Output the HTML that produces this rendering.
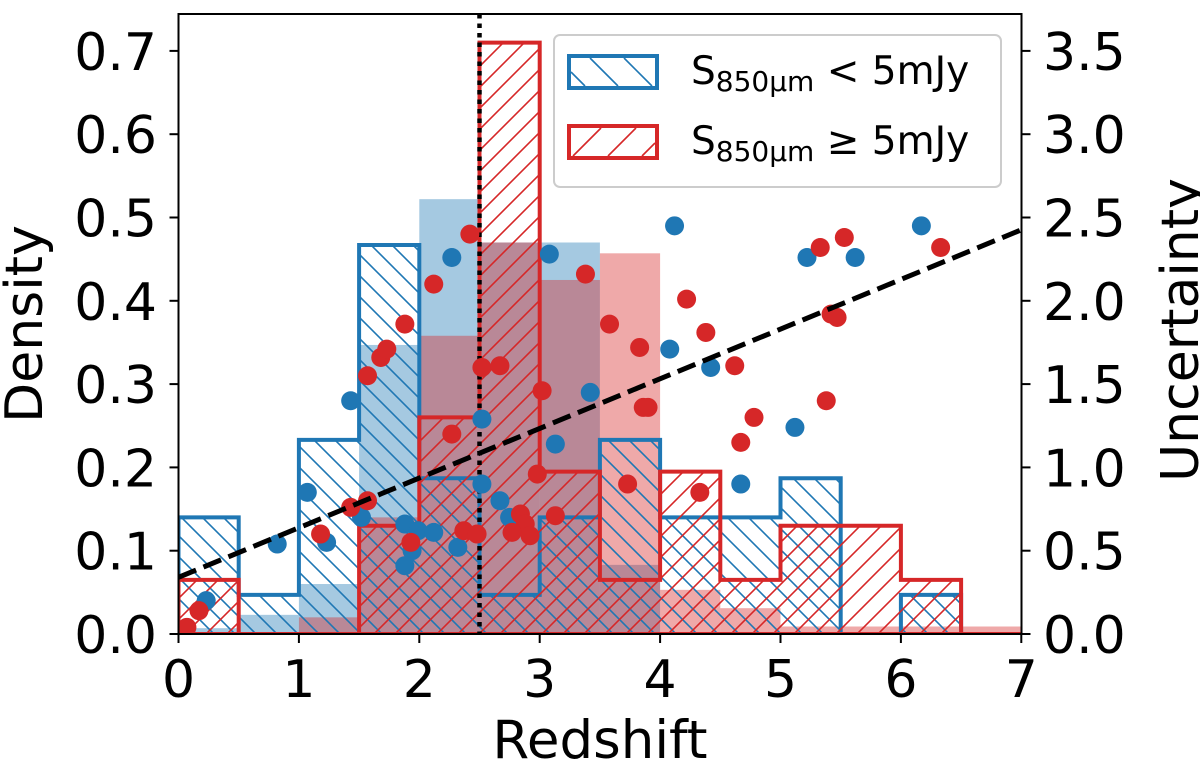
<!DOCTYPE html>
<html><head><meta charset="utf-8"><style>
html,body{margin:0;padding:0;background:#fff;}
svg{display:block;font-family:"DejaVu Sans","Liberation Sans",sans-serif;}
</style></head><body>
<svg id="chart" width="1200" height="766" viewBox="0 0 1200 766">
<defs>
<pattern id="hb" patternUnits="userSpaceOnUse" width="21" height="21"><path d="M-4,-4 L25,25 M-4,17 L4,25 M17,-4 L25,4" stroke="#1f77b4" stroke-width="1.6"/></pattern>
<pattern id="hr" patternUnits="userSpaceOnUse" width="21" height="21"><path d="M-4,25 L25,-4 M-4,4 L4,-4 M17,25 L25,17" stroke="#d62728" stroke-width="1.6"/></pattern>
<clipPath id="clip"><rect x="178.5" y="14" width="843" height="620"/></clipPath>
</defs>
<g id="plot" clip-path="url(#clip)"></g>
<g id="axes"></g>
</svg>
<script>
const binEdges=[0,0.5,1,1.5,2,2.5,3,3.5,4,4.5,5,5.5,6,6.5,7];
const blueFill=[0.007,0.023,0.06,0.347,0.522,0.47,0.47,0.083,0,0,0,0,0,0];
const redFill=[0,0,0.02,0.14,0.358,0.47,0.425,0.457,0.053,0.031,0.009,0.009,0.009,0.009];
const blueHatch=[0.14,0.047,0.233,0.467,0.187,0.047,0.14,0.233,0.14,0.14,0.187,0,0.047,0];
const redHatch=[0.065,0,0,0.13,0.26,0.71,0.195,0.065,0.195,0.065,0.13,0.13,0.065,0];
const blueX=[0.23,0.82,1.23,1.07,1.43,1.52,2.27,1.88,1.99,2.12,1.94,1.88,2.32,2.52,2.52,2.67,2.75,3.08,3.13,3.42,4.12,4.08,4.42,4.67,5.12,5.22,5.62,6.17];
const blueU=[0.20,0.54,0.55,0.85,1.40,0.70,2.26,0.66,0.62,0.61,0.50,0.41,0.52,1.29,0.90,0.80,0.70,2.28,1.14,1.45,2.45,1.71,1.60,0.90,1.24,2.26,2.26,2.45];
const redX=[0.07,0.17,1.18,1.43,1.57,1.57,1.68,1.73,1.88,2.12,2.42,2.27,1.93,2.37,2.48,2.52,2.67,3.02,2.98,2.84,2.88,2.92,2.77,3.13,3.38,3.58,3.83,3.86,3.90,3.73,4.22,4.38,4.62,4.78,4.67,4.33,5.38,5.42,5.47,5.33,5.53,6.33];
const redU=[0.04,0.14,0.60,0.76,0.80,1.55,1.66,1.71,1.86,2.10,2.40,1.20,0.55,0.62,0.60,1.60,1.61,1.46,0.96,0.72,0.66,0.59,0.61,0.71,2.16,1.86,1.72,1.36,1.36,0.90,2.01,1.81,1.61,1.30,1.15,0.85,1.40,1.92,1.90,2.32,2.38,2.32];
const fitIntercept=0.34, fitSlope=0.298;
const xTicks=[0,1,2,3,4,5,6,7];
const yTicks=[0.0,0.1,0.2,0.3,0.4,0.5,0.6,0.7];
const uTicks=[0.0,0.5,1.0,1.5,2.0,2.5,3.0,3.5];
const zSplit=2.5;

const NS='http://www.w3.org/2000/svg';
const X=v=>178.5+v*120.4;
const Y=v=>634-v*833;
const U=v=>634-v*166.6;
const plot=document.getElementById('plot'), axes=document.getElementById('axes');
function mk(tag,attrs,parent){const e=document.createElementNS(NS,tag);for(const k in attrs)e.setAttribute(k,attrs[k]);parent.appendChild(e);return e;}

blueFill.forEach((v,i)=>{if(v<=0)return;
 const r=mk('rect',{x:X(binEdges[i]),y:Y(v),width:X(binEdges[i+1])-X(binEdges[i]),height:Y(0)-Y(v),fill:'#1f77b4','fill-opacity':0.4},plot);
 
 });
redFill.forEach((v,i)=>{if(v<=0)return;
 const r=mk('rect',{x:X(binEdges[i]),y:Y(v),width:X(binEdges[i+1])-X(binEdges[i]),height:Y(0)-Y(v),fill:'#d62728','fill-opacity':0.4},plot);
 
 });
function stepPath(vals){let d='M'+X(binEdges[0])+','+Y(0);
 vals.forEach((v,i)=>{d+=' L'+X(binEdges[i])+','+Y(v)+' L'+X(binEdges[i+1])+','+Y(v);});
 d+=' L'+X(binEdges[binEdges.length-1])+','+Y(0)+' Z';return d;}
const hb=mk('path',{d:stepPath(blueHatch),fill:'url(#hb)',stroke:'#1f77b4','stroke-width':4,'stroke-linejoin':'miter'},plot);


const hr=mk('path',{d:stepPath(redHatch),fill:'url(#hr)',stroke:'#d62728','stroke-width':4,'stroke-linejoin':'miter'},plot);



const vl=mk('line',{x1:X(zSplit),x2:X(zSplit),y1:14,y2:634,stroke:'#000','stroke-width':4.5,'stroke-dasharray':'4.5,5'},plot);



blueX.forEach((x,i)=>{const c=mk('circle',{cx:X(x),cy:U(blueU[i]),r:9.5,fill:'#1f77b4'},plot);
 
 });
redX.forEach((x,i)=>{const c=mk('circle',{cx:X(x),cy:U(redU[i]),r:9.5,fill:'#d62728'},plot);
 
 });

const fl=mk('line',{x1:X(0),y1:U(fitIntercept),x2:X(7),y2:U(fitIntercept+fitSlope*7),stroke:'#000','stroke-width':5,'stroke-dasharray':'19,8'},plot);



const fr=mk('rect',{x:178.5,y:14,width:843,height:620,fill:'none',stroke:'#000','stroke-width':2},axes);



xTicks.forEach(t=>{mk('line',{x1:X(t),x2:X(t),y1:634,y2:643,stroke:'#000','stroke-width':2},axes);
 const tx=mk('text',{x:X(t),y:697,'font-size':52,'text-anchor':'middle'},axes);tx.textContent=t;
 
 });
yTicks.forEach(t=>{mk('line',{x1:169.5,x2:178.5,y1:Y(t),y2:Y(t),stroke:'#000','stroke-width':2},axes);
 const tx=mk('text',{x:157,y:Y(t)+19,'font-size':52,'text-anchor':'end'},axes);tx.textContent=t.toFixed(1);
 
 });
uTicks.forEach(t=>{mk('line',{x1:1021.5,x2:1030.5,y1:U(t),y2:U(t),stroke:'#000','stroke-width':2},axes);
 const tx=mk('text',{x:1043,y:U(t)+19,'font-size':52,'text-anchor':'start'},axes);tx.textContent=t.toFixed(1);
 
 });
</script>
<svg width="1200" height="766" style="position:absolute;left:0;top:0;font-family:'DejaVu Sans','Liberation Sans',sans-serif;">
<text x="600" y="758" font-size="53" text-anchor="middle">Redshift</text>
<text transform="translate(42,324) rotate(-90)" font-size="52" text-anchor="middle">Density</text>
<text transform="translate(1198,330) rotate(-90)" font-size="52" text-anchor="middle">Uncertainty</text>
<g>
<rect x="554" y="35" width="447" height="152" rx="6" fill="#fff" fill-opacity="0.85" stroke="#ccc" stroke-width="2"/>
<g>
<rect x="569" y="56" width="88" height="32" fill="none" stroke="#1f77b4" stroke-width="4"/>
<path d="M590,58 L618,86 M624,58 L652,86 M571,72 L585,86" stroke="#1f77b4" stroke-width="1.6"/>
<text x="691" y="84" font-size="39">S<tspan font-size="28" dy="7">850μm</tspan><tspan dy="-7"> &lt; 5mJy</tspan></text>
</g>
<g>
<rect x="569" y="126" width="88" height="32" fill="none" stroke="#d62728" stroke-width="4"/>
<path d="M573,156 L601,128 M608,156 L636,128 M642,156 L655,143" stroke="#d62728" stroke-width="1.6"/>
<text x="691" y="154" font-size="39">S<tspan font-size="28" dy="7">850μm</tspan><tspan dy="-7"> ≥ 5mJy</tspan></text>
</g>
</g>
</svg>
</body></html>
